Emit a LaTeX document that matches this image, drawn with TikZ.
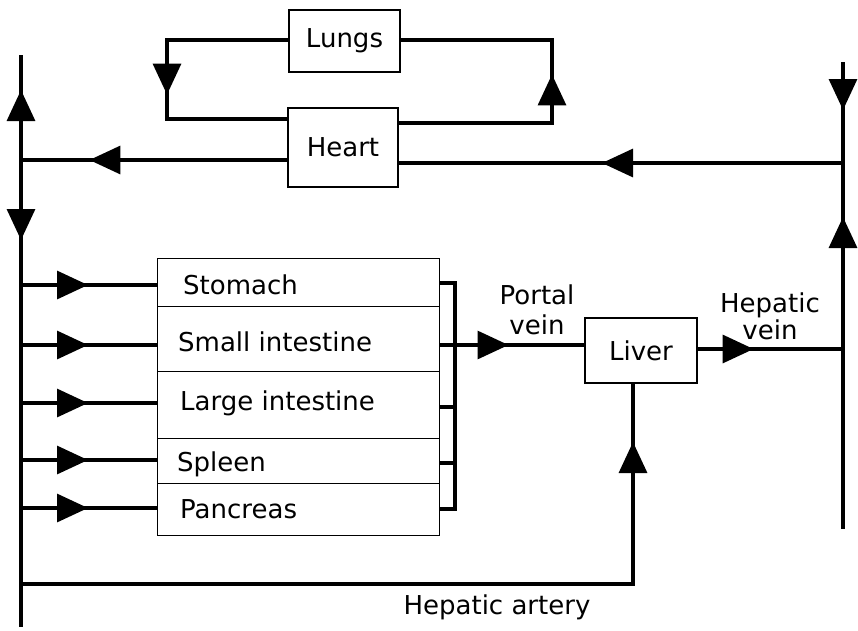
\documentclass[tikz,border=0pt]{standalone}
\usepackage{fontspec}
\setmainfont{DejaVu Sans}
\usetikzlibrary{arrows.meta,decorations.markings}
\tikzset{
  line/.style={line width=3.2pt},
  boxe/.style={draw, line width=1.2pt, rectangle, inner sep=0pt, font=\fontsize{26}{30}\selectfont},
  rowbox/.style={draw, line width=1pt, rectangle, inner sep=0pt, minimum width=282pt},
  flowat/.style={postaction={decorate, decoration={markings, mark=at position #1 with {\arrow{Triangle[length=31pt,width=28pt]}}}}},
  lab/.style={font=\fontsize{26}{30}\selectfont, inner sep=0pt, align=center},
  orgtext/.style={font=\fontsize{26}{30}\selectfont, inner sep=0pt, anchor=west}
}
\begin{document}
\begin{tikzpicture}[x=1pt,y=-1pt]
\useasboundingbox (0,0) rectangle (858,630);
% boxes
\node[boxe, minimum width=111pt, minimum height=62pt] (lungs) at (344.5,41) {Lungs};
\node[boxe, minimum width=110pt, minimum height=79pt] (heart) at (343,147.5) {Heart};
\node[boxe, minimum width=112pt, minimum height=65pt] (liver) at (641,350.5) {Liver};
\node[rowbox, minimum height=48pt] (stom) at (298,282) {};
\node[rowbox, minimum height=65pt] (small) at (298,338.5) {};
\node[rowbox, minimum height=67pt] (large) at (298,404.5) {};
\node[rowbox, minimum height=45pt] (spleen) at (298,460.5) {};
\node[rowbox, minimum height=52pt] (panc) at (298,509) {};
\node[orgtext] (tstom) at (183,285) {Stomach};
\node[orgtext] (tsmall) at (178,342) {Small intestine};
\node[orgtext] (tlarge) at (180,403) {Large intestine};
\node[orgtext] (tspleen) at (177,464) {Spleen};
\node[orgtext] (tpanc) at (180,509) {Pancreas};
% coordinates
\coordinate (lsT) at (21,55);
\coordinate (lsH) at (21,160);
\coordinate (lsBot) at (21,627);
\coordinate (lsA) at (21,584);
\coordinate (ls1) at (21,285);
\coordinate (ls2) at (21,345);
\coordinate (ls3) at (21,403);
\coordinate (ls4) at (21,460);
\coordinate (ls5) at (21,508);
\coordinate (rsT) at (843,62);
\coordinate (rsH) at (843,163);
\coordinate (rsV) at (843,349);
\coordinate (rsB) at (843,529);
% lungs loop
\draw[line, flowat=176pt] (lungs.west |- 0,40) -- (167,40) |- (heart.west |- 0,119);
\draw[line, flowat=202pt] (heart.east |- 0,123) -| (552,40) -- (lungs.east |- 0,40);
% heart lines
\draw[line, flowat=198pt] (heart.west |- lsH) -- (lsH);
\draw[line, flowat=241pt] (rsH) -- (heart.east |- rsH);
% spines
\draw[line, flowat=70pt] (lsH) -- (lsT);
\draw[line, flowat=80pt] (lsH) -- (lsBot);
\draw[line, flowat=48pt] (rsT) -- (rsH);
\draw[line, flowat=132pt] (rsV) -- (rsH);
\draw[line] (rsV) -- (rsB);
% organ arteries
\draw[line, flowat=67pt] (ls1) -- (ls1 -| stom.west);
\draw[line, flowat=67pt] (ls2) -- (ls2 -| small.west);
\draw[line, flowat=67pt] (ls3) -- (ls3 -| large.west);
\draw[line, flowat=67pt] (ls4) -- (ls4 -| spleen.west);
\draw[line, flowat=67pt] (ls5) -- (ls5 -| panc.west);
% bracket
\draw[line] (stom.east |- 0,283) -| (455,509) -- (panc.east |- 0,509);
\draw[line] (large.east |- 0,407) -- (455,407);
\draw[line] (spleen.east |- 0,463) -- (455,463);
% portal vein
\draw[line, flowat=69pt] (small.east |- 0,345) -- (liver.west |- 0,345);
% hepatic vein
\draw[line, flowat=56pt] (liver.east |- rsV) -- (rsV);
% hepatic artery
\draw[line, flowat=754pt] (lsA) -| (liver.south -| 633,0);
% labels
\node[lab] (pv) at (537,310) {Portal\\vein};
\node[lab, font=\fontsize{26}{27}\selectfont] (hv) at (770,316) {Hepatic\\vein};
\node[lab] (ha) at (497,607) {Hepatic artery};
\end{tikzpicture}
\end{document}
